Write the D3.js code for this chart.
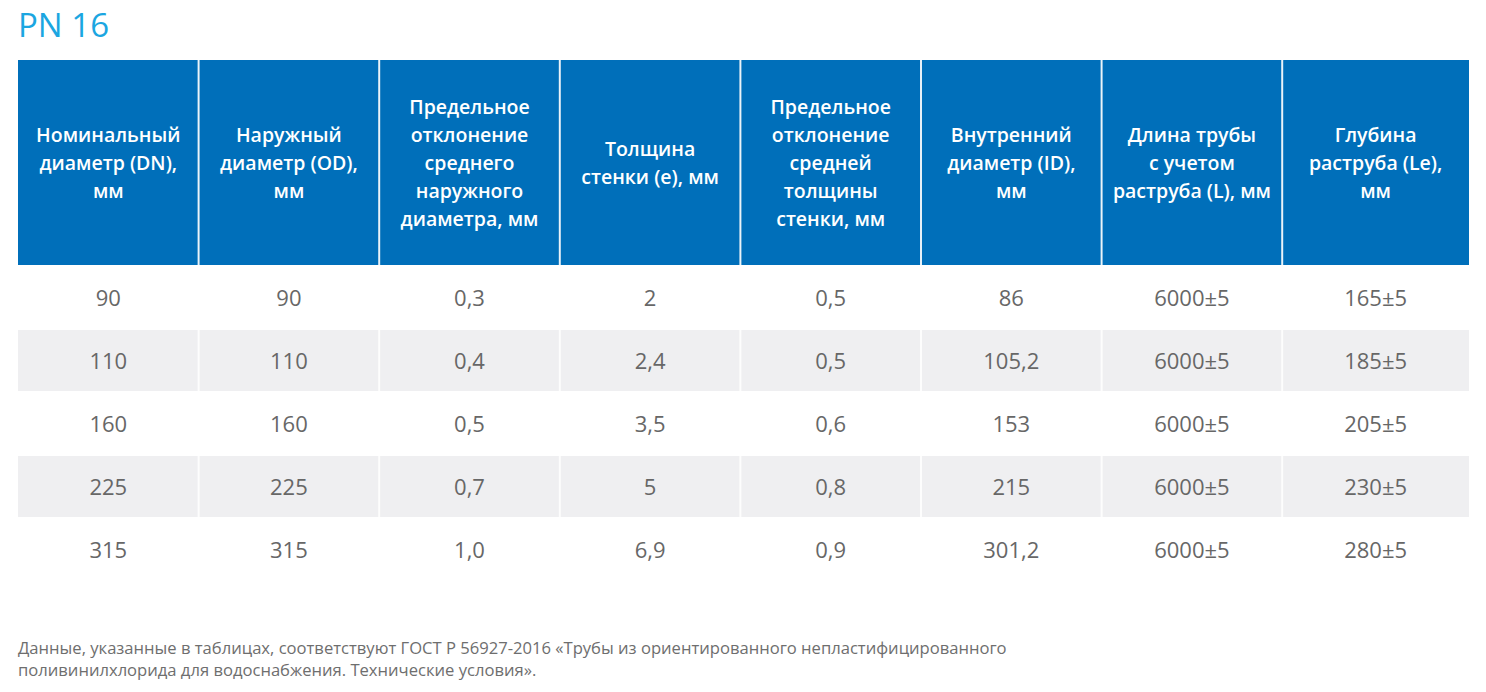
<!DOCTYPE html>
<html><head><meta charset="utf-8">
<script src="https://cdn.jsdelivr.net/npm/d3@7"></script>
<style>
body{margin:0;background:#fff;font-family:"Open Sans",sans-serif;}
</style></head>
<body>
<svg id="chart" width="1486" height="692"></svg>
<script>
const title = "PN 16";
const headers = [
  ["Номинальный","диаметр (DN),","мм"],
  ["Наружный","диаметр (OD),","мм"],
  ["Предельное","отклонение","среднего","наружного","диаметра, мм"],
  ["Толщина","стенки (e), мм"],
  ["Предельное","отклонение","средней","толщины","стенки, мм"],
  ["Внутренний","диаметр (ID),","мм"],
  ["Длина трубы","с учетом","раструба (L), мм"],
  ["Глубина","раструба (Le),","мм"]
];
const dn = ["90","110","160","225","315"];
const od = ["90","110","160","225","315"];
const odDev = ["0,3","0,4","0,5","0,7","1,0"];
const wall = ["2","2,4","3,5","5","6,9"];
const wallDev = ["0,5","0,5","0,6","0,8","0,9"];
const idm = ["86","105,2","153","215","301,2"];
const len = ["6000±5","6000±5","6000±5","6000±5","6000±5"];
const depth = ["165±5","185±5","205±5","230±5","280±5"];
const footnote = ["Данные, указанные в таблицах, соответствуют ГОСТ Р 56927-2016 «Трубы из ориентированного непластифицированного",
                  "поливинилхлорида для водоснабжения. Технические условия»."];

const columns = [dn, od, odDev, wall, wallDev, idm, len, depth];
const svg = d3.select("#chart");
const left = 18, right = 1469, headTop = 60, headBottom = 266, rowH = 63;
const x = d3.scaleBand().domain(d3.range(columns.length)).range([left, left + 180.6*columns.length]).paddingInner(0);
const cellW = i => i === columns.length-1 ? right - x(i) : x.bandwidth();
const cellC = i => x(i) + cellW(i)/2;
const y = d3.scaleBand().domain(d3.range(dn.length)).range([headBottom, headBottom + rowH*dn.length]);

svg.append("text").attr("x", 18).attr("y", 37).attr("fill", "#1ba6e1")
  .style("font-size", "33px").text(title);

// header
const hg = svg.append("g");
hg.selectAll("rect").data(headers).join("rect")
  .attr("x", (d,i)=>x(i)).attr("y", headTop).attr("width", (d,i)=>cellW(i)).attr("height", headBottom-headTop)
  .attr("fill", "#006fba");
const lh = 28;
hg.selectAll("text").data(headers).join("text")
  .attr("x", (d,i)=>cellC(i))
  .attr("text-anchor","middle").attr("fill","#fff")
  .style("font-size","19.5px").style("font-weight","600")
  .each(function(d){
    const t = d3.select(this);
    const cy = (headTop+headBottom)/2;
    const y0 = cy - (d.length-1)*lh/2 + 7;
    d.forEach((s,k)=>t.append("tspan").attr("x", t.attr("x")).attr("y", y0+k*lh).text(s));
  });

// rows
const rows = d3.range(dn.length);
const rg = svg.append("g");
rows.forEach(r=>{
  if (r%2===1) {
    rg.append("rect").attr("x", left).attr("y", y(r)).attr("width", right-left).attr("height", y.bandwidth())
      .attr("fill","#efeff1");
  }
  columns.forEach((col,c)=>{
    rg.append("text").attr("x", cellC(c)).attr("y", y(r)+y.bandwidth()/2+8)
      .attr("text-anchor","middle").attr("fill","#676767")
      .style("font-size","22px").text(col[r]);
  });
});
// white separators
const seps = svg.append("g");
d3.range(1, columns.length).forEach(c=>{
  seps.append("line").attr("x1", x(c)).attr("x2", x(c)).attr("y1", headTop).attr("y2", y(dn.length-1)+rowH)
    .attr("stroke","#fff").attr("stroke-width",2).attr("opacity",0.9);
});
rows.forEach(r=>{
  seps.append("line").attr("x1", left).attr("x2", right).attr("y1", y(r)).attr("y2", y(r))
    .attr("stroke","#fff").attr("stroke-width",2);
});

svg.append("text").attr("fill","#6e6e6e").style("font-size","16.6px")
  .selectAll("tspan").data(footnote).join("tspan")
  .attr("x", 18).attr("y",(d,i)=>654+i*22).text(d=>d);
</script>
</body></html>
